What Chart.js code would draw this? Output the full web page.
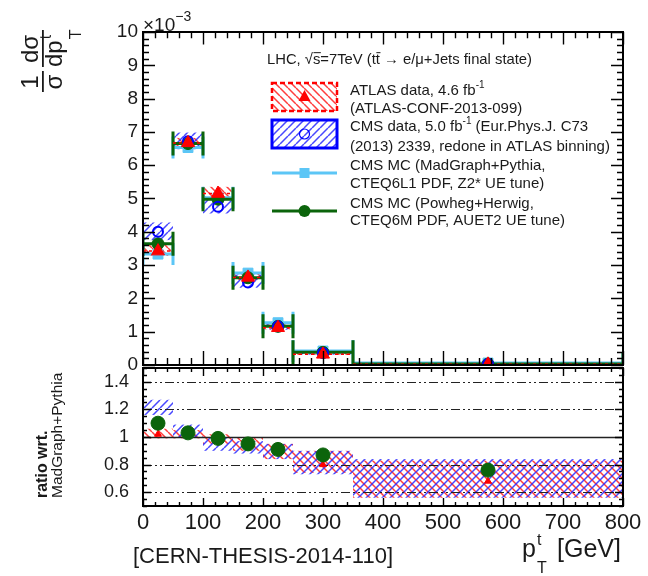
<!DOCTYPE html>
<html>
<head>
<meta charset="utf-8">
<script src="https://cdn.jsdelivr.net/npm/chart.js@4.4.0/dist/chart.umd.min.js"></script>
<style>
  html, body { margin: 0; padding: 0; background: #fff; }
  #wrap { position: relative; width: 648px; height: 576px; background: #fff; }
  #top { position: absolute; left: 0; top: 0; }
  #bot { position: absolute; left: 0; top: 360px; }
</style>
</head>
<body>
<div id="wrap">
  <canvas id="bot" width="648" height="216"></canvas>
  <canvas id="top" width="648" height="385"></canvas>
</div>
<script>
// bins in top-quark pT [GeV]
const binLo = [0, 50, 100, 150, 200, 250, 350];
const binHi = [50, 100, 150, 200, 250, 350, 800];
const binCenter = [25, 75, 125, 175, 225, 300, 575];

// upper panel: 1/sigma dsigma/dpT in units of 1e-3
const atlas    = [3.42, 6.67, 5.15, 2.63, 1.12, 0.32, 0.02];
const atlasLo  = [3.28, 6.55, 5.02, 2.55, 1.07, 0.30, 0.01];
const atlasHi  = [3.62, 6.82, 5.35, 2.75, 1.22, 0.38, 0.04];
const cms      = [4.00, 6.72, 4.75, 2.48, 1.16, 0.36, 0.03];
const cmsLo    = [3.75, 6.48, 4.55, 2.32, 1.06, 0.31, 0.01];
const cmsHi    = [4.28, 6.98, 4.98, 2.72, 1.24, 0.40, 0.05];
const madgraph = [3.33, 6.53, 5.02, 2.76, 1.27, 0.42, 0.06];
const powheg   = [3.64, 6.65, 4.98, 2.62, 1.16, 0.38, 0.03];

// lower panel: ratio wrt. MadGraph+Pythia
const rAtlas   = [1.02, 1.03, 1.00, 0.96, 0.90, 0.80, 0.68];
const rAtlasLo = [0.99, 0.99, 0.95, 0.90, 0.84, 0.74, 0.56];
const rAtlasHi = [1.06, 1.05, 1.02, 1.00, 0.95, 0.90, 0.83];
const rCmsLo   = [1.16, 1.00, 0.90, 0.88, 0.84, 0.73, 0.56];
const rCmsHi   = [1.27, 1.09, 1.00, 0.97, 0.95, 0.90, 0.84];
const rPowheg  = [1.10, 1.03, 0.99, 0.95, 0.91, 0.87, 0.76];
const ratioTicks = [0.6, 0.8, 1, 1.2, 1.4];
const ratioDashed = [0.6, 0.8, 1.2, 1.4];

const FONT = '"Liberation Sans", Arial, Helvetica, sans-serif';
const RED = '#ff0000', BLUE = '#0000ff', LBLUE = '#5cc6f6', GREEN = '#0b640b';
const INK = '#1a1a1a';

function hatch(color, forward, gap) {
  const c = document.createElement('canvas');
  c.width = c.height = gap;
  const g = c.getContext('2d');
  g.strokeStyle = color;
  g.lineWidth = 1.5;
  g.beginPath();
  for (let k = -1; k <= 1; k++) {
    if (forward) { g.moveTo(k * gap, gap); g.lineTo(k * gap + gap, 0); }
    else { g.moveTo(k * gap, 0); g.lineTo(k * gap + gap, gap); }
  }
  g.stroke();
  return g.createPattern(c, 'repeat');
}
const redHatch = hatch('rgba(255,40,40,0.9)', false, 8);
const blueHatch = hatch('rgba(40,40,255,0.85)', true, 8);

function clipArea(chart) {
  const a = chart.chartArea, ctx = chart.ctx;
  ctx.beginPath();
  ctx.rect(a.left, a.top, a.right - a.left, a.bottom - a.top);
  ctx.clip();
}

function bands(chart, lo, hi, pattern) {
  const { ctx, scales: { x, y } } = chart;
  ctx.fillStyle = pattern;
  for (let i = 0; i < binLo.length; i++) {
    const x0 = x.getPixelForValue(binLo[i]), x1 = x.getPixelForValue(binHi[i]);
    const y0 = y.getPixelForValue(hi[i]), y1 = y.getPixelForValue(lo[i]);
    ctx.fillRect(x0, y0, x1 - x0, y1 - y0);
  }
}

function binBars(chart, vals, color, lw, cap) {
  const { ctx, scales: { x, y } } = chart;
  ctx.strokeStyle = color;
  ctx.lineWidth = lw;
  ctx.beginPath();
  for (let i = 0; i < binLo.length; i++) {
    const x0 = x.getPixelForValue(binLo[i]), x1 = x.getPixelForValue(binHi[i]);
    const py = y.getPixelForValue(vals[i]);
    ctx.moveTo(x0, py); ctx.lineTo(x1, py);
    ctx.moveTo(x0, py - cap); ctx.lineTo(x0, py + cap);
    ctx.moveTo(x1, py - cap); ctx.lineTo(x1, py + cap);
  }
  ctx.stroke();
}

// ROOT-style frame with inward ticks on all four sides
function frame(chart, t) {
  const { ctx, chartArea: a, scales: { x, y } } = chart;
  ctx.save();
  ctx.strokeStyle = '#000';
  ctx.lineWidth = 1.4;
  ctx.beginPath();
  const isMajor = (v, m) => Math.abs(v / m - Math.round(v / m)) < 1e-6;
  for (let v = x.min; v <= x.max + 1e-9; v += t.xMinor) {
    const px = Math.round(x.getPixelForValue(v)) + 0.5;
    const L = isMajor(v, t.xMajor) ? t.xLen : t.xLen / 2;
    ctx.moveTo(px, a.bottom); ctx.lineTo(px, a.bottom - L);
    ctx.moveTo(px, a.top); ctx.lineTo(px, a.top + L * t.topScale);
  }
  for (let v = y.min; v <= y.max + 1e-9; v += t.yMinor) {
    const py = Math.round(y.getPixelForValue(v)) + 0.5;
    const L = isMajor(v, t.yMajor) ? t.yLen : t.yLen / 2;
    ctx.moveTo(a.left, py); ctx.lineTo(a.left + L, py);
    ctx.moveTo(a.right, py); ctx.lineTo(a.right - L, py);
  }
  ctx.stroke();
  ctx.lineWidth = 2;
  ctx.strokeRect(a.left, a.top, a.right - a.left, a.bottom - a.top);
  ctx.restore();
}

function rich(ctx, parts, x, y, size) {
  for (const p of parts) {
    const s = p.size || size;
    const dy = p.dy || 0;
    ctx.font = s + 'px ' + FONT;
    ctx.fillText(p.t, x, y + dy);
    const w = ctx.measureText(p.t).width;
    if (p.bar) ctx.fillRect(x + 0.5, y + dy - s * 0.8, w, 1);
    x += w;
  }
  return x;
}

const upperDeco = {
  id: 'upperDeco',
  beforeDatasetsDraw(chart) {
    const { ctx, scales: { x, y } } = chart;
    ctx.save();
    clipArea(chart);
    bands(chart, atlasLo, atlasHi, redHatch);
    bands(chart, cmsLo, cmsHi, blueHatch);
    binBars(chart, madgraph, LBLUE, 3, 11);
    binBars(chart, powheg, GREEN, 3, 12);
    ctx.setLineDash([3, 3]);
    ctx.strokeStyle = RED;
    ctx.lineWidth = 1.5;
    ctx.beginPath();
    for (let i = 0; i < binLo.length; i++) {
      const py = y.getPixelForValue(atlas[i]);
      ctx.moveTo(x.getPixelForValue(binLo[i]), py);
      ctx.lineTo(x.getPixelForValue(binHi[i]), py);
    }
    ctx.stroke();
    ctx.restore();
  },
  afterDatasetsDraw(chart) {
    frame(chart, { xMinor: 20, xMajor: 100, xLen: 14, topScale: 0.9, yMinor: 0.2, yMajor: 1, yLen: 12 });
  },
  afterDraw(chart) {
    const ctx = chart.ctx;
    ctx.save();
    ctx.fillStyle = INK;
    ctx.textBaseline = 'alphabetic';
    ctx.textAlign = 'left';
    // exponent
    rich(ctx, [{ t: '\u00d710' }, { t: '\u22123', size: 14, dy: -10 }], 143, 31, 19);

    // header text
    rich(ctx, [
      { t: 'LHC, ' }, { t: '\u221a' }, { t: 's', bar: true }, { t: '=7TeV (' },
      { t: 't' }, { t: 't', bar: true }, { t: ' \u2192 e/\u03bc+Jets final state)' }
    ], 267, 64, 14.8);

    // legend
    const lx0 = 272, lx1 = 337, lc = (lx0 + lx1) / 2;
    ctx.fillStyle = redHatch;
    ctx.fillRect(lx0, 83, lx1 - lx0, 28);
    ctx.setLineDash([5, 3]);
    ctx.strokeStyle = RED; ctx.lineWidth = 2.5;
    ctx.strokeRect(lx0, 83, lx1 - lx0, 28);
    ctx.setLineDash([]);
    ctx.fillStyle = RED;
    ctx.beginPath();
    ctx.moveTo(lc, 90); ctx.lineTo(lc + 6, 101); ctx.lineTo(lc - 6, 101); ctx.closePath();
    ctx.fill();

    ctx.fillStyle = blueHatch;
    ctx.fillRect(lx0, 120, lx1 - lx0, 28);
    ctx.strokeStyle = BLUE; ctx.lineWidth = 3;
    ctx.strokeRect(lx0, 120, lx1 - lx0, 28);
    ctx.lineWidth = 1.2;
    ctx.beginPath(); ctx.arc(lc, 134, 5, 0, Math.PI * 2); ctx.stroke();

    ctx.strokeStyle = LBLUE; ctx.lineWidth = 3;
    ctx.beginPath(); ctx.moveTo(lx0, 173); ctx.lineTo(lx1, 173); ctx.stroke();
    ctx.fillStyle = LBLUE; ctx.fillRect(lc - 5, 168, 10, 10);

    ctx.strokeStyle = GREEN;
    ctx.beginPath(); ctx.moveTo(lx0, 211); ctx.lineTo(lx1, 211); ctx.stroke();
    ctx.fillStyle = GREEN;
    ctx.beginPath(); ctx.arc(lc, 211, 6, 0, Math.PI * 2); ctx.fill();

    ctx.fillStyle = INK;
    const tx = 350, fs = 15;
    rich(ctx, [{ t: 'ATLAS data, 4.6 fb' }, { t: '-1', size: 10, dy: -7 }], tx, 95, fs);
    rich(ctx, [{ t: '(ATLAS-CONF-2013-099)' }], tx, 113, fs);
    rich(ctx, [{ t: 'CMS data, 5.0 fb' }, { t: '-1', size: 10, dy: -7 }, { t: ' (Eur.Phys.J. C73' }], tx, 131, fs);
    rich(ctx, [{ t: '(2013) 2339, redone in ATLAS binning)' }], tx, 151, fs);
    rich(ctx, [{ t: 'CMS MC (MadGraph+Pythia,' }], tx, 170, fs);
    rich(ctx, [{ t: 'CTEQ6L1 PDF, Z2* UE tune)' }], tx, 188, fs);
    rich(ctx, [{ t: 'CMS MC (Powheg+Herwig,' }], tx, 208, fs);
    rich(ctx, [{ t: 'CTEQ6M PDF, AUET2 UE tune)' }], tx, 225, fs);

    // y axis title: 1/sigma dsigma/dpT
    ctx.translate(43, 92);
    ctx.rotate(-Math.PI / 2);
    ctx.font = '24px ' + FONT;
    ctx.textAlign = 'center';
    ctx.fillText('1', 10, -5);
    ctx.fillText('\u03c3', 10, 19);
    ctx.fillRect(0, -1, 21, 1.8);
    ctx.fillText('d\u03c3', 43, -5);
    ctx.fillRect(25, -1, 37, 1.8);
    ctx.textAlign = 'left';
    ctx.fillText('dp', 25, 19);
    const w = ctx.measureText('dp').width;
    ctx.font = '16px ' + FONT;
    ctx.fillText('t', 25 + w + 1, 8);
    ctx.fillText('T', 25 + w + 1, 38);
    ctx.restore();
  }
};

const lowerDeco = {
  id: 'lowerDeco',
  beforeDatasetsDraw(chart) {
    const { ctx, chartArea: a, scales: { y } } = chart;
    ctx.save();
    clipArea(chart);
    bands(chart, rAtlasLo, rAtlasHi, redHatch);
    bands(chart, rCmsLo, rCmsHi, blueHatch);
    ctx.strokeStyle = '#222';
    ctx.lineWidth = 1.2;
    ctx.setLineDash([9, 3, 2, 3, 2, 3]);
    ctx.beginPath();
    for (const v of ratioDashed) {
      const py = Math.round(y.getPixelForValue(v)) + 0.5;
      ctx.moveTo(a.left, py); ctx.lineTo(a.right, py);
    }
    ctx.stroke();
    ctx.setLineDash([]);
    ctx.lineWidth = 1.5;
    ctx.beginPath();
    const p1 = Math.round(y.getPixelForValue(1)) + 0.5;
    ctx.moveTo(a.left, p1); ctx.lineTo(a.right, p1);
    ctx.stroke();
    ctx.restore();
  },
  afterDatasetsDraw(chart) {
    frame(chart, { xMinor: 20, xMajor: 100, xLen: 8, topScale: 1, yMinor: 0.05, yMajor: 0.2, yLen: 8 });
  },
  afterDraw(chart) {
    const ctx = chart.ctx;
    ctx.save();
    ctx.fillStyle = INK;
    ctx.textBaseline = 'alphabetic';
    ctx.textAlign = 'left';
    // x axis title
    rich(ctx, [{ t: 'p' }], 522, 197, 25);
    rich(ctx, [{ t: 't' }], 537, 185, 16);
    rich(ctx, [{ t: 'T' }], 537, 213, 16);
    rich(ctx, [{ t: '[GeV]' }], 557, 197, 25);
    // source note
    rich(ctx, [{ t: '[CERN-THESIS-2014-110]' }], 133, 203, 22);
    // ratio title
    ctx.save();
    ctx.translate(47, 138);
    ctx.rotate(-Math.PI / 2);
    ctx.font = 'bold 16px ' + FONT;
    ctx.fillText('ratio wrt.', 0, 0);
    ctx.restore();
    ctx.translate(62, 138);
    ctx.rotate(-Math.PI / 2);
    ctx.font = '15.5px ' + FONT;
    ctx.fillText('MadGraph+Pythia', 0, 0);
    ctx.restore();
  }
};

const pts = (vals) => binCenter.map((x, i) => ({ x: x, y: vals[i] }));
const noPad = (s) => { s.paddingTop = 0; s.paddingBottom = 0; s.paddingLeft = 0; s.paddingRight = 0; };

new Chart(document.getElementById('top'), {
  type: 'scatter',
  data: {
    datasets: [
      { label: 'ATLAS data', data: pts(atlas), pointStyle: 'triangle', pointRadius: 7.5,
        backgroundColor: RED, borderColor: RED, borderWidth: 1 },
      { label: 'CMS data', data: pts(cms), pointStyle: 'circle', pointRadius: 5,
        backgroundColor: 'rgba(0,0,0,0)', borderColor: BLUE, borderWidth: 2 },
      { label: 'CMS MC Powheg+Herwig', data: pts(powheg), pointStyle: 'circle', pointRadius: 6,
        backgroundColor: GREEN, borderColor: GREEN, borderWidth: 1 },
      { label: 'CMS MC MadGraph+Pythia', data: pts(madgraph), pointStyle: 'rect', pointRadius: 7,
        backgroundColor: LBLUE, borderColor: LBLUE, borderWidth: 1 }
    ]
  },
  options: {
    responsive: false,
    animation: false,
    events: [],
    layout: { padding: { left: 0, top: 32, right: 25, bottom: 0 } },
    plugins: { legend: { display: false }, tooltip: { enabled: false } },
    scales: {
      x: {
        type: 'linear', min: 0, max: 800,
        ticks: { display: false },
        grid: { display: false, drawTicks: false },
        border: { display: false },
        afterFit: (s) => { s.height = 20; noPad(s); }
      },
      y: {
        type: 'linear', min: 0, max: 10,
        ticks: { stepSize: 1, padding: 5, color: INK, font: { family: FONT, size: 19 } },
        grid: { display: false, drawTicks: false },
        border: { display: false },
        afterFit: (s) => { s.width = 143; noPad(s); }
      }
    }
  },
  plugins: [upperDeco]
});

new Chart(document.getElementById('bot'), {
  type: 'scatter',
  data: {
    datasets: [
      { label: 'CMS MC Powheg+Herwig', data: pts(rPowheg), pointStyle: 'circle', pointRadius: 7,
        backgroundColor: GREEN, borderColor: GREEN, borderWidth: 1 },
      { label: 'ATLAS data', data: pts(rAtlas), pointStyle: 'triangle', pointRadius: 4,
        backgroundColor: RED, borderColor: RED, borderWidth: 1 }
    ]
  },
  options: {
    responsive: false,
    animation: false,
    events: [],
    layout: { padding: { left: 0, top: 5, right: 25, bottom: 0 } },
    plugins: { legend: { display: false }, tooltip: { enabled: false } },
    scales: {
      x: {
        type: 'linear', min: 0, max: 800,
        ticks: { stepSize: 100, padding: 4, color: INK, maxRotation: 0, font: { family: FONT, size: 22 } },
        grid: { display: false, drawTicks: false },
        border: { display: false },
        afterFit: (s) => { s.height = 70; noPad(s); }
      },
      y: {
        type: 'linear', min: 0.5, max: 1.5,
        afterBuildTicks: (s) => { s.ticks = ratioTicks.map((v) => ({ value: v })); },
        ticks: { padding: 14, color: INK, font: { family: FONT, size: 18 },
                 callback: (v) => String(Math.round(v * 10) / 10) },
        grid: { display: false, drawTicks: false },
        border: { display: false },
        afterFit: (s) => { s.width = 143; noPad(s); }
      }
    }
  },
  plugins: [lowerDeco]
});
</script>
</body>
</html>
